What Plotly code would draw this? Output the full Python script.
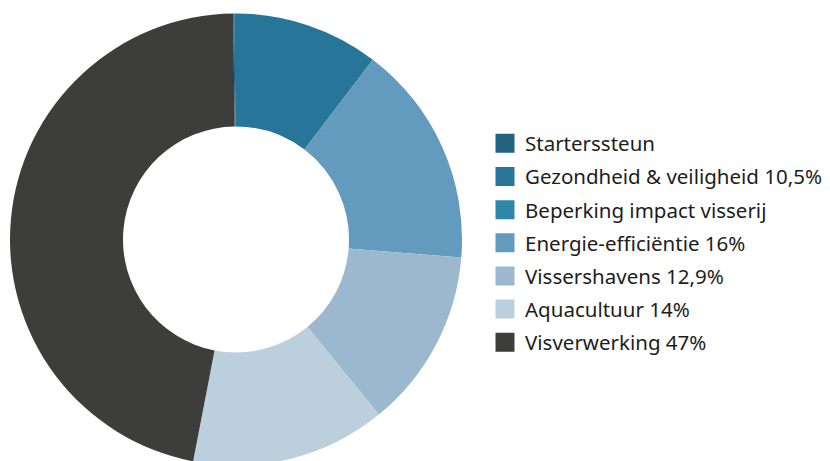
import plotly.graph_objects as go

labels = ["Starterssteun", "Gezondheid & veiligheid 10,5%", "Beperking impact visserij",
          "Energie-efficiëntie 16%", "Vissershavens 12,9%", "Aquacultuur 14%", "Visverwerking 47%"]
values = [0.1, 10.5, 0, 16, 12.9, 14, 47]
colors = ["#23637f", "#27769a", "#2e86ab", "#629bbd", "#9bb8cf", "#bccfdd", "#3d3d3b"]

W, H = 830, 466
fig = go.Figure(go.Pie(
    labels=labels, values=values, hole=0.5, sort=False, direction="clockwise",
    rotation=-0.7, textinfo="none", hoverinfo="label", showlegend=False,
    marker=dict(colors=colors, line=dict(width=0)),
    domain=dict(x=[10 / W, 462 / W], y=[(H - 465.5) / H, (H - 13.5) / H]),
))
# legend entries (one per category, grouped so the gap between rows can be set)
for lab, col in zip(labels, colors):
    fig.add_trace(go.Scatter(
        x=[None], y=[None], mode="markers", name=lab, legendgroup=lab,
        marker=dict(symbol="square", size=16, color=col, line=dict(width=3, color=col)),
        hoverinfo="skip",
    ))
fig.update_layout(
    width=W, height=H, margin=dict(l=0, r=0, t=0, b=0),
    paper_bgcolor="white", plot_bgcolor="white",
    xaxis=dict(visible=False), yaxis=dict(visible=False),
    font=dict(family="Noto Sans", size=20.5, color="#1d1d1b"),
    legend=dict(x=485 / W, xanchor="left", y=(H - 243) / H, yanchor="middle",
                font=dict(size=20.5), traceorder="grouped", tracegroupgap=3.5,
                itemclick=False, itemdoubleclick=False),
)
fig.write_html("out.html", config={"displayModeBar": False},
               post_script="document.body.style.margin='0';document.body.style.overflow='hidden';")
